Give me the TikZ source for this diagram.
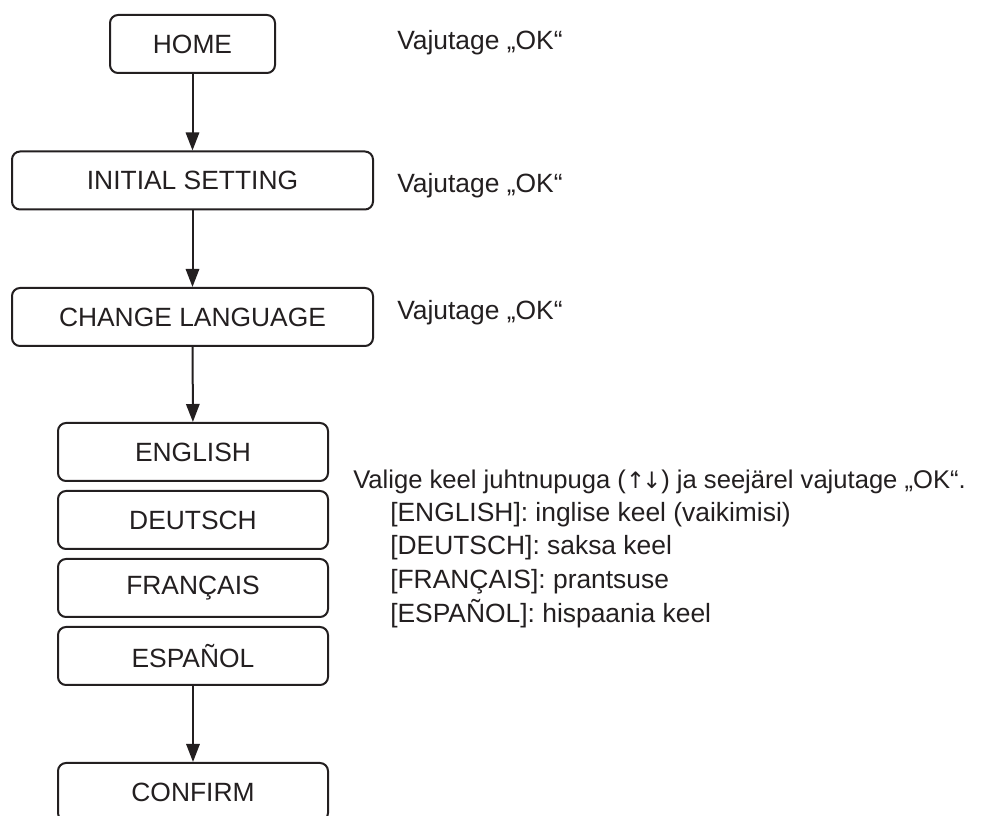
\documentclass[tikz,border=0pt]{standalone}
\usepackage{fontspec}
\setmainfont{Liberation Sans}
\newfontfamily\arrowfont{DejaVu Sans}
\usetikzlibrary{arrows.meta}
\definecolor{ink}{HTML}{231f20}

\tikzset{
  menubox/.style={draw=ink,line width=1.5pt,rounded corners=6pt,
    minimum height=43.5pt,inner sep=0pt,text=ink,
    font=\fontsize{19.8}{24}\selectfont},
  flow/.style={ink,line width=1.5pt,-{Triangle[width=10pt,length=13.5pt]}},
  note/.style={anchor=base west,inner sep=0pt,text=ink,
    font=\fontsize{19.8}{24}\selectfont}
}

\begin{document}
\begin{tikzpicture}[x=0.75pt,y=-0.75pt]
  % Page frame (pixels of the reference, y downwards)
  \path[use as bounding box,clip] (0,0) rectangle (983,816);
  \fill[white] (0,0) rectangle (983,816);

  % Menu steps
  \node[menubox,minimum width=123.75pt] (home) at (192.5,44) {HOME};
  \node[menubox,minimum width=270.75pt] (init) at (192.5,180.5) {INITIAL SETTING};
  \node[menubox,minimum width=270.75pt] (lang) at (192.5,317) {CHANGE LANGUAGE};

  % Language choices (stacked)
  \node[menubox,minimum width=202.5pt] (english) at (193,452) {ENGLISH};
  \node[menubox,minimum width=202.5pt] (deutsch) at (193,520) {DEUTSCH};
  \node[menubox,minimum width=202.5pt] (francais) at (193,588) {FRANÇAIS};
  \node[menubox,minimum width=202.5pt] (espanol) at (193,656) {ESPAÑOL};

  % Last step (cut by the page edge)
  \node[menubox,minimum width=202.5pt] (confirm) at (193,792) {CONFIRM};

  % Arrows
  \draw[flow] (home) -- (init);
  \draw[flow] (init) -- (lang);
  \draw[flow] (lang) -- (english);
  \draw[flow] (espanol) -- (confirm);

  % Instructions
  \node[note] (okhome) at (397,50) {Vajutage „OK“};
  \node[note] (okinit) at (397,193) {Vajutage „OK“};
  \node[note] (oklang) at (397,320) {Vajutage „OK“};

  \node[note,font=\fontsize{19.2}{24}\selectfont] (select) at (353,489)
    {Valige keel juhtnupuga ({\arrowfont\fontsize{17}{24}\selectfont↑\kern-0.12em↓}) ja seejärel vajutage „OK“.};
  \node[note] (lineen) at (390,522) {[ENGLISH]: inglise keel (vaikimisi)};
  \node[note] (linede) at (390,555) {[DEUTSCH]: saksa keel};
  \node[note] (linefr) at (390,589) {[FRANÇAIS]: prantsuse};
  \node[note] (linees) at (390,623) {[ESPAÑOL]: hispaania keel};
\end{tikzpicture}
\end{document}
